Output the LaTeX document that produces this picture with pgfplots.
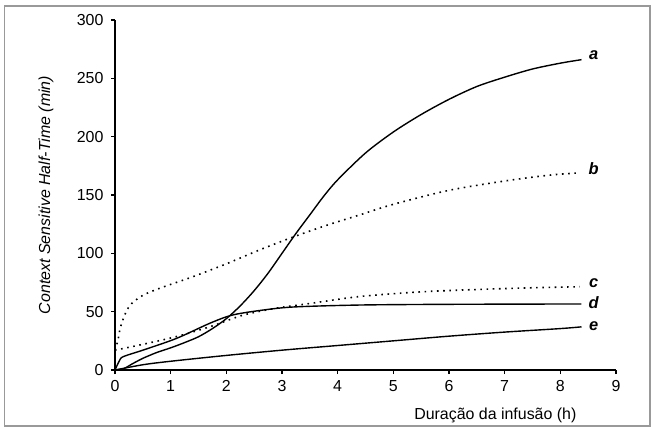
\documentclass[border=0pt]{standalone}
\usepackage{pgfplots}
\pgfplotsset{compat=1.18}
\usepackage{fontspec}
\setmainfont{Liberation Sans}
\newcommand\tfont{\fontsize{16}{18}\selectfont}
\begin{document}
\begin{tikzpicture}[x=1bp,y=1bp]
\path[use as bounding box] (0,0) rectangle (653,428);
\draw[gray!80, line width=1.2bp] (4.5,2) rectangle (650,422);
\begin{axis}[
  at={(115bp,58bp)}, anchor=origin,
  scale only axis, width=501bp, height=350bp,
  xmin=0, xmax=9, ymin=0, ymax=300,
  axis x line=bottom, axis y line=left,
  axis line style={-, line width=1.4bp},
  xtick={0,...,9}, ytick={0,50,...,300},
  tick align=outside, major tick length=4bp,
  tick style={line width=1.2bp, black},
  /pgf/number format/assume math mode=true,
  xticklabel={\tfont\pgfmathprintnumber{\tick}},
  yticklabel={\tfont\pgfmathprintnumber{\tick}},
  yticklabel style={xshift=-4bp},
  xticklabel style={yshift=-3bp},
  xlabel={Duração da infusão (h)},
  xlabel style={at={(axis description cs:0.928,0)}, anchor=base east, yshift=-49bp, font=\tfont},
  ylabel={\itshape Context Sensitive Half-Time (min)},
  ylabel style={at={(axis description cs:0,0.5)}, anchor=south, yshift=58bp, font=\tfont},
  clip=false,
]
\addplot[black, line width=1.4bp, smooth, tension=0.5] coordinates {
(0,0) (0.15,1) (0.3,5) (0.5,10) (0.75,15) (1,19) (1.25,23.5) (1.5,28.5) (1.75,35.5) (2,44) (2.25,55) (2.5,68) (2.75,83) (3,100) (3.25,117) (3.5,133) (3.75,149) (4,163) (4.5,186) (5,204) (5.5,219) (6,232) (6.5,243) (7,251) (7.5,258) (8,263) (8.38,266)};
\addplot[black, line width=1.6bp, dash pattern=on 1.6bp off 4.6bp, smooth, tension=0.5] coordinates {
(0,17) (0.05,25) (0.1,37) (0.2,50) (0.3,57) (0.5,64) (0.8,70) (1.4,80) (2,91) (2.6,103) (3.2,114) (3.8,124) (4.4,133) (5,142) (6,154) (7,162) (7.8,167) (8.35,169)};
\addplot[black, line width=1.6bp, dash pattern=on 1.6bp off 4.6bp, smooth, tension=0.5] coordinates {
(0,17) (0.5,22) (1.1,28.6) (1.7,37) (2.3,47) (2.9,53) (3.5,57) (4.4,63) (5.5,67) (6.5,69) (7.5,70.5) (8.35,71.4)};
\addplot[black, line width=1.4bp, smooth, tension=0.5] coordinates {
(0,0) (0.08,8) (0.15,11.5) (0.5,17) (1.1,27) (1.7,40) (2.1,47) (2.6,51) (3.2,54) (4.4,55.7) (6,56.3) (8.38,56.6)};
\addplot[black, line width=1.4bp, smooth, tension=0.5] coordinates {
(0,0) (0.5,4.5) (1,7.5) (2,12.5) (3,17) (4,21) (5,25) (6,29) (7,32.5) (8,35.5) (8.38,37)};
\node[font=\fontsize{16.5}{18}\selectfont\bfseries\itshape] at (axis cs:8.6,270) {a};
\node[font=\fontsize{16.5}{18}\selectfont\bfseries\itshape] at (axis cs:8.6,173) {b};
\node[font=\fontsize{16.5}{18}\selectfont\bfseries\itshape] at (axis cs:8.6,74.6) {c};
\node[font=\fontsize{16.5}{18}\selectfont\bfseries\itshape] at (axis cs:8.6,57.4) {d};
\node[font=\fontsize{16.5}{18}\selectfont\bfseries\itshape] at (axis cs:8.6,37.7) {e};
\end{axis}
\end{tikzpicture}
\end{document}
